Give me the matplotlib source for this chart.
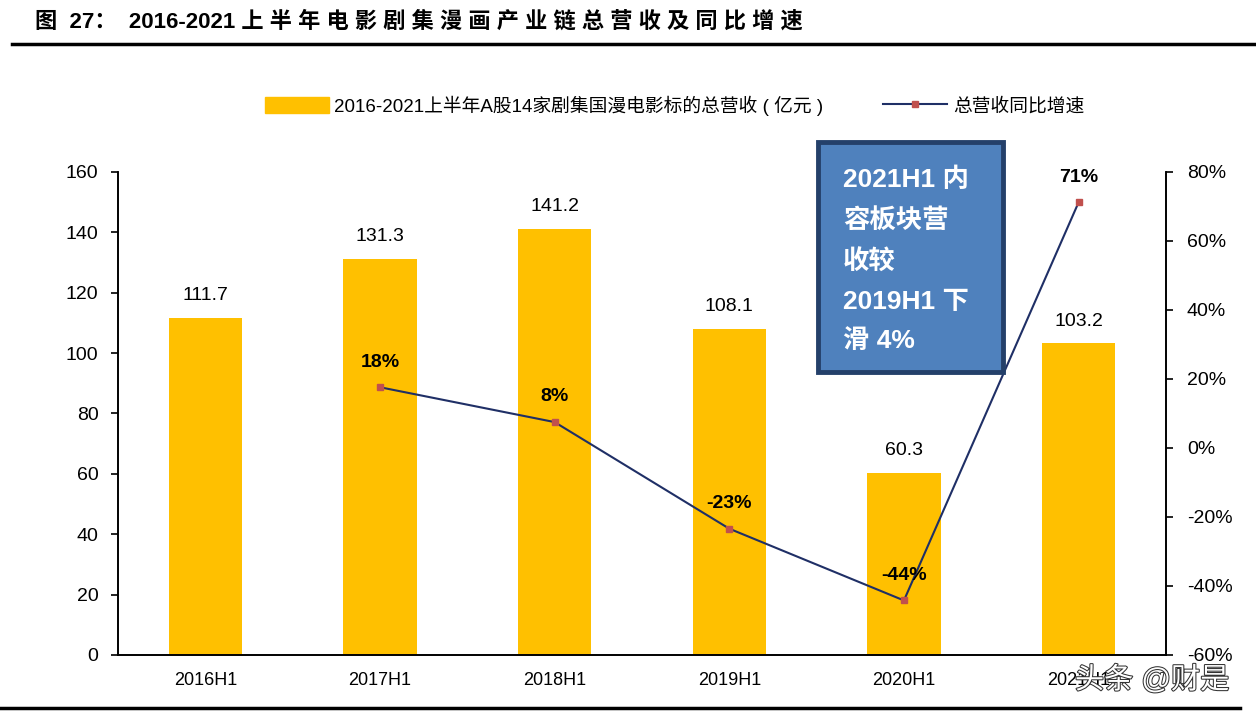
import matplotlib.pyplot as plt
import matplotlib.patheffects as pe
from matplotlib.patches import Rectangle
from matplotlib.lines import Line2D
from matplotlib.patches import Patch

plt.rcParams['font.family'] = ['Liberation Sans', 'Noto Sans CJK SC']

# data
periods = ["2016H1", "2017H1", "2018H1", "2019H1", "2020H1", "2021H1"]
revenue = [111.7, 131.3, 141.2, 108.1, 60.3, 103.2]
growth_periods = ["2017H1", "2018H1", "2019H1", "2020H1", "2021H1"]
growth = [17.6, 7.5, -23.4, -44.2, 71.2]
growth_labels = ["18%", "8%", "-23%", "-44%", "71%"]

bar_color = "#FFC000"
line_color = "#1F2F66"
marker_color = "#C0504D"

fig = plt.figure(figsize=(12.56, 7.12), dpi=100)
ax = fig.add_axes([0.0939, 0.0801, 0.8344, 0.6784])
ax2 = ax.twinx()

x = list(range(len(periods)))
ax.bar(x, revenue, width=0.42, color=bar_color, zorder=2)
for xi, v in zip(x, revenue):
    ax.annotate(f"{v:.1f}", (xi, v), xytext=(0, 10), textcoords="offset points",
                ha="center", va="bottom", fontsize=14)

ax.set_xlim(-0.5, len(periods) - 0.5)
ax.set_ylim(0, 160)
ax.set_yticks(range(0, 161, 20))
ax.set_xticks(x)
ax.set_xticklabels(periods, fontsize=13)
ax.tick_params(axis="y", labelsize=14, direction="out", length=5, width=1.2, pad=9)
ax.tick_params(axis="x", length=0, pad=12)
for s in ["top"]:
    ax.spines[s].set_visible(False)
    ax2.spines[s].set_visible(False)
for s in ["left", "bottom", "right"]:
    ax.spines[s].set_linewidth(1.2)
    ax2.spines[s].set_linewidth(1.2)

gx = [periods.index(p) for p in growth_periods]
ax2.plot(gx, growth, color=line_color, lw=1.5, marker="s", markersize=5,
         markerfacecolor=marker_color, markeredgecolor=marker_color, zorder=3)
for xi, v, lab in zip(gx, growth, growth_labels):
    ax2.annotate(lab, (xi, v), xytext=(0, 12), textcoords="offset points",
                 ha="center", va="bottom", fontsize=14, fontweight="bold")
ax2.set_ylim(-60, 80)
ax2.set_yticks(range(-60, 81, 20))
ax2.set_yticklabels([f"{t}%" for t in range(-60, 81, 20)])
ax2.tick_params(axis="y", labelsize=14, direction="out", length=5, width=1.2, pad=10)
ax.set_zorder(1)
ax2.set_zorder(2)

# legend
handles = [Patch(color=bar_color),
           Line2D([0], [0], color=line_color, lw=1.5, marker="s", markersize=5,
                  markerfacecolor=marker_color, markeredgecolor=marker_color)]
labels = ["2016-2021上半年A股14家剧集国漫电影标的总营收 ( 亿元 )", "总营收同比增速"]
fig.legend(handles, labels, loc="center", bbox_to_anchor=(0.537, 0.852), ncol=2,
           frameon=False, fontsize=13.5, handlelength=3.4, handleheight=0.9,
           columnspacing=3.2, handletextpad=0.3)

# annotation box
box = Rectangle((818 / 1256, 1 - 372 / 712), 185 / 1256, 230 / 712, transform=fig.transFigure,
                facecolor="#4F81BD", edgecolor="#24406A", lw=3.5, zorder=5)
fig.patches.append(box)
fig.text(843 / 1256, 1 - 168 / 712, "2021H1 内\n容板块营\n收较\n2019H1 下\n滑 4%",
         ha="left", va="top", color="white", fontsize=19, fontweight="bold",
         linespacing=1.8, zorder=6)

# title
title = "图  27：  2016-2021 " + " ".join("上半年电影剧集漫画产业链总营收及同比增速")
fig.text(35 / 1256, 1 - 22 / 712, title, ha="left", va="center", fontsize=16, fontweight="bold")
fig.add_artist(Line2D([12 / 1256, 1.0], [1 - 44 / 712] * 2, color="black", lw=2.5,
                      transform=fig.transFigure))
fig.add_artist(Line2D([0.0, 1240 / 1256], [1 - 708 / 712] * 2, color="black", lw=2.5,
                      transform=fig.transFigure))

# watermark
fig.text(1152 / 1256, 1 - 680 / 712, "头条 @财是", ha="center", va="center", fontsize=21,
         color="white", zorder=10,
         path_effects=[pe.withStroke(linewidth=1.5, foreground="#333333")])

fig.savefig("out.png", dpi=100)
